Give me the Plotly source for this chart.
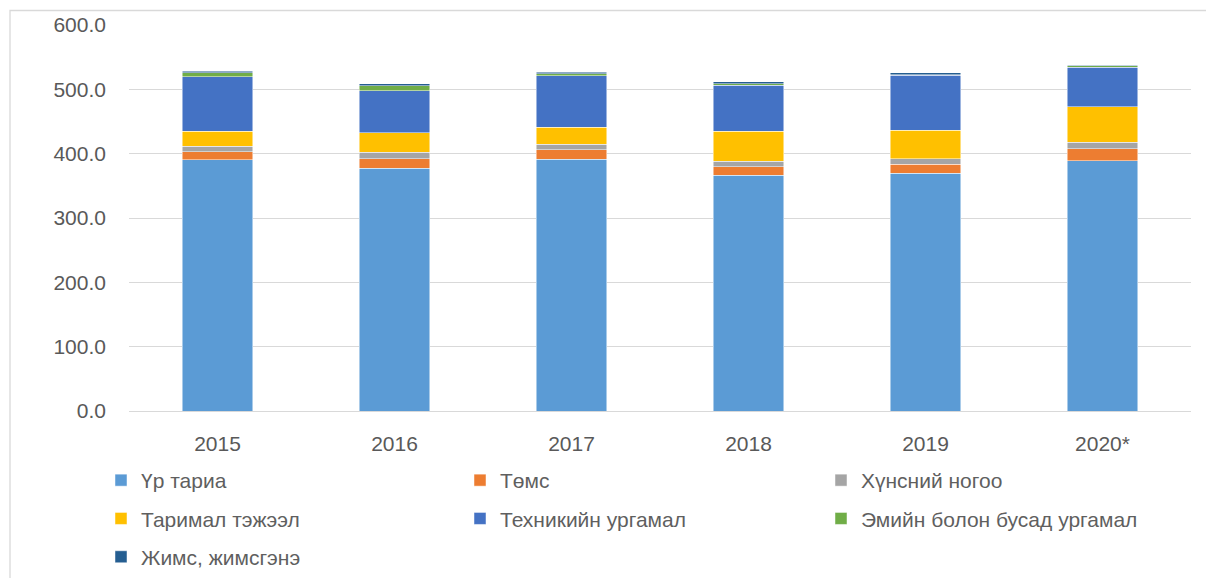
import plotly.graph_objects as go

years = ["2015", "2016", "2017", "2018", "2019", "2020*"]
series_names = ["Үр тариа", "Төмс", "Хүнсний ногоо", "Таримал тэжээл",
                "Техникийн ургамал", "Эмийн болон бусад ургамал", "Жимс, жимсгэнэ"]
grain = [390.6, 377.2, 391.2, 366.4, 369.5, 389.1]
potato = [12.5, 15.0, 15.0, 13.3, 14.4, 18.6]
vegetables = [8.3, 10.1, 8.3, 8.9, 8.3, 10.0]
fodder = [23.4, 30.0, 26.5, 46.6, 44.1, 55.3]
technical = [84.4, 65.8, 80.2, 71.0, 85.6, 61.2]
medicinal = [6.7, 7.7, 3.1, 2.1, 0.5, 2.5]
fruit = [2.1, 2.7, 2.6, 3.6, 3.1, 0.6]
y_ticks = [0, 100, 200, 300, 400, 500, 600]

values = [grain, potato, vegetables, fodder, technical, medicinal, fruit]
colors = ["#5B9BD5", "#ED7D31", "#A5A5A5", "#FFC000", "#4472C4", "#70AD47", "#255E91"]
legend_of = ["legend", "legend2", "legend3", "legend", "legend2", "legend3", "legend"]

fig = go.Figure()
for i, (name, vals) in enumerate(zip(series_names, values)):
    fig.add_trace(go.Bar(
        x=years, y=vals, name=name,
        marker=dict(color=colors[i], line=dict(color="rgba(255,255,255,0.6)", width=0.8)),
        legend=legend_of[i], legendgroup=name,
    ))

# page has an 8px body margin; figure is sized so it fits in the window
W, H = 1206, 570
L, R, T, B = 121, 23, 17, 167
pw, ph = W - L - R, H - T - B

def px_x(p):
    return (p - L) / pw

def px_y(p):
    return (H - B - p) / ph

font_family = "Liberation Sans, Arial, sans-serif"
legend_common = dict(
    orientation="v", xanchor="left", yanchor="top",
    font=dict(family=font_family, size=21, color="#5f5f5f"),
    bgcolor="rgba(0,0,0,0)", tracegroupgap=8, traceorder="grouped",
    itemwidth=30,
)

fig.update_layout(
    width=W, height=H,
    margin=dict(l=L, r=R, t=T, b=B, pad=0, autoexpand=False),
    paper_bgcolor="white", plot_bgcolor="white",
    barmode="stack", bargap=0.6,
    font=dict(family=font_family, size=21, color="#595959"),
    xaxis=dict(showgrid=False, showline=True, linecolor="#D9D9D9", linewidth=1.3,
               ticks="", tickfont=dict(size=21, color="#595959"), ticklabelstandoff=14),
    yaxis=dict(range=[0, 600], tickvals=y_ticks, ticktext=[f"{v:.1f}" for v in y_ticks],
               showgrid=True, gridcolor="#D9D9D9", gridwidth=1.3, zeroline=False,
               ticks="", tickfont=dict(size=21, color="#595959"), ticklabelstandoff=22),
    legend=dict(x=px_x(93), y=px_y(452), **legend_common),
    legend2=dict(x=px_x(452), y=px_y(452), **legend_common),
    legend3=dict(x=px_x(813), y=px_y(452), **legend_common),
    shapes=[dict(type="rect", xref="paper", yref="paper",
                 x0=px_x(2), x1=px_x(1240), y0=px_y(600), y1=px_y(2.5),
                 line=dict(color="#D9D9D9", width=1.3), fillcolor="rgba(0,0,0,0)", layer="below")],
)

fig.write_html("out.html")
